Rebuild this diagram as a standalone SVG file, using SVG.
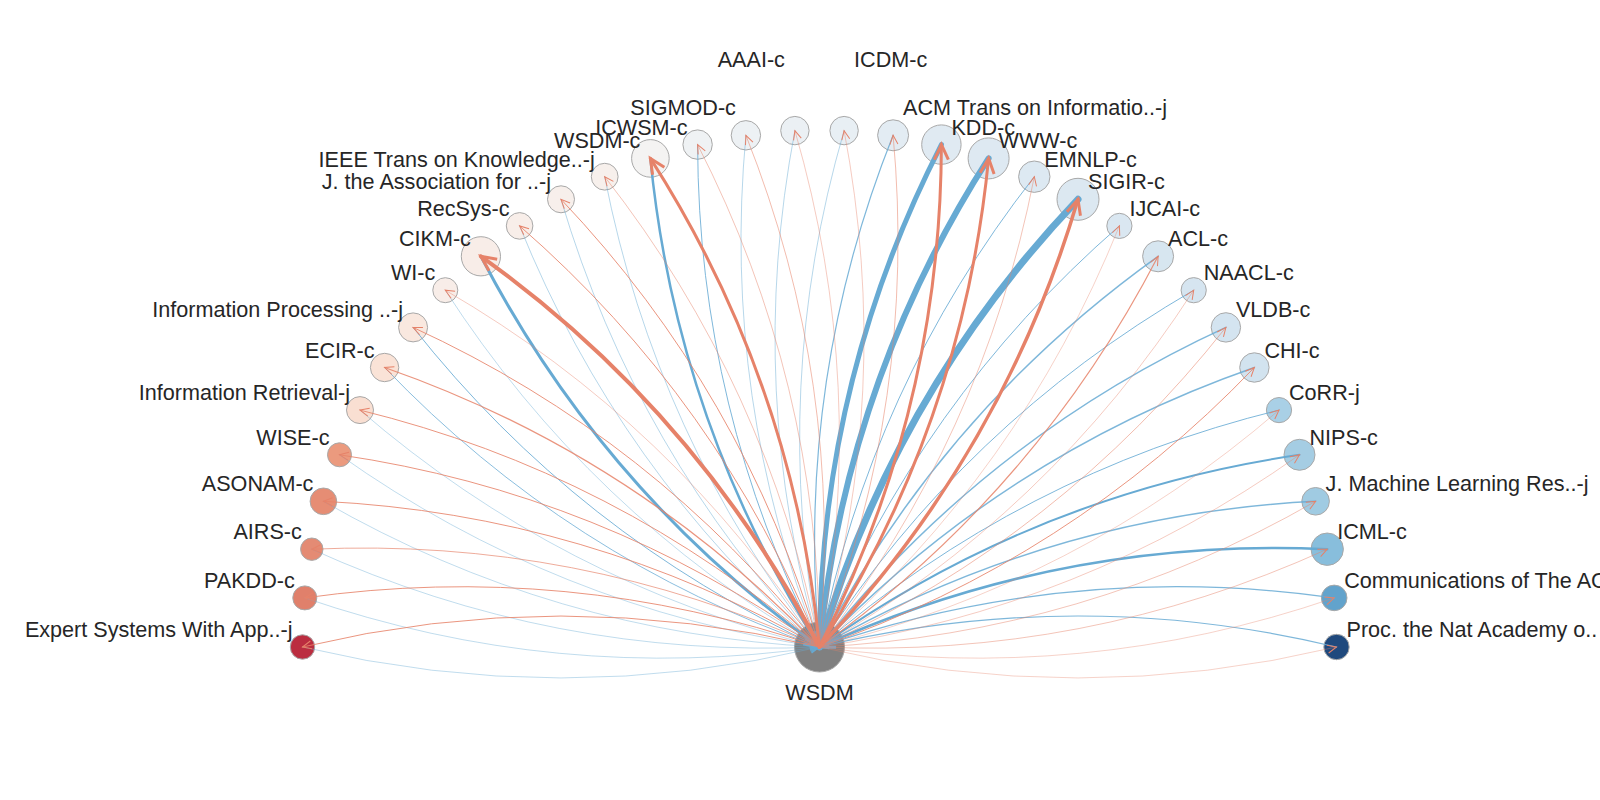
<svg xmlns="http://www.w3.org/2000/svg" width="1600" height="800" viewBox="0 0 1600 800">
<style>
.nd circle{stroke:#a8a8a8;stroke-width:1}
text{font-family:"Liberation Sans",Arial,sans-serif;font-size:21.6px;fill:#262626}
.l{text-anchor:end}
.r{text-anchor:start}
.c{text-anchor:middle}
#connectors path{fill:none;stroke-linecap:round}
.rd{stroke:#e68269;marker-end:url(#mr)}
.rD{stroke:#e68269;marker-end:url(#mR)}
.bl{stroke:#67aad3;marker-end:url(#mb)}
.bL{stroke:#67aad3;marker-end:url(#mB)}
.t{stroke-opacity:0.6}
.m{stroke-opacity:0.85}
</style>
<defs>
<marker id="mr" markerUnits="userSpaceOnUse" orient="auto" markerWidth="20" markerHeight="20" refX="0" refY="0" overflow="visible"><path d="M-9,-4 L0,0 L-9,4" fill="none" stroke="#e68269" stroke-width="1"/></marker>
<marker id="mR" markerUnits="userSpaceOnUse" orient="auto" markerWidth="30" markerHeight="30" refX="0" refY="0" overflow="visible"><path d="M-15,-7 L0,0 L-15,7" fill="none" stroke="#e68269" stroke-width="3"/></marker>
<marker id="mb" markerUnits="userSpaceOnUse" orient="auto" markerWidth="20" markerHeight="20" refX="0" refY="0" overflow="visible"><path d="M-9,-4 L0,0 L-9,4" fill="none" stroke="#67aad3" stroke-width="1"/></marker>
<marker id="mB" markerUnits="userSpaceOnUse" orient="auto" markerWidth="30" markerHeight="30" refX="0" refY="0" overflow="visible"><path d="M-15,-7 L0,0 L-15,7" fill="none" stroke="#67aad3" stroke-width="3"/></marker>
</defs>
<rect width="1600" height="800" fill="#ffffff"/>
<g id="nodes">
<g id="n-wsdm" class="nd"><circle cx="819.5" cy="647" r="25" fill="#808080" stroke="none"/><text class="c" x="819.5" y="700">WSDM</text></g>
<g id="n0" class="nd"><circle cx="302.5" cy="647" r="12.2" fill="#bb2d40"/><text class="l" x="292.5" y="637">Expert Systems With App..-j</text></g>
<g id="n1" class="nd"><circle cx="304.8" cy="597.9" r="12" fill="#e0806b"/><text class="l" x="294.8" y="587.9">PAKDD-c</text></g>
<g id="n2" class="nd"><circle cx="311.8" cy="549.2" r="11.2" fill="#e48b74"/><text class="l" x="301.8" y="539.2">AIRS-c</text></g>
<g id="n3" class="nd"><circle cx="323.4" cy="501.3" r="13.3" fill="#e68d74"/><text class="l" x="313.4" y="491.3">ASONAM-c</text></g>
<g id="n4" class="nd"><circle cx="339.5" cy="454.8" r="12" fill="#eb9a7e"/><text class="l" x="329.5" y="444.8">WISE-c</text></g>
<g id="n5" class="nd"><circle cx="360" cy="410.1" r="13.5" fill="#f9dfd2"/><text class="l" x="350" y="400.1">Information Retrieval-j</text></g>
<g id="n6" class="nd"><circle cx="384.6" cy="367.5" r="14.2" fill="#fae3d7"/><text class="l" x="374.6" y="357.5">ECIR-c</text></g>
<g id="n7" class="nd"><circle cx="413.1" cy="327.4" r="14.5" fill="#f9e8df"/><text class="l" x="403.1" y="317.4">Information Processing ..-j</text></g>
<g id="n8" class="nd"><circle cx="445.3" cy="290.2" r="12.5" fill="#f8ede8"/><text class="l" x="435.3" y="280.2">WI-c</text></g>
<g id="n9" class="nd"><circle cx="480.9" cy="256.3" r="19.6" fill="#f8ede8"/><text class="l" x="470.9" y="246.3">CIKM-c</text></g>
<g id="n10" class="nd"><circle cx="519.6" cy="225.9" r="13.3" fill="#f8eee9"/><text class="l" x="509.6" y="215.9">RecSys-c</text></g>
<g id="n11" class="nd"><circle cx="561" cy="199.3" r="13.5" fill="#f7efeb"/><text class="l" x="551" y="189.3">J. the Association for ..-j</text></g>
<g id="n12" class="nd"><circle cx="604.7" cy="176.7" r="13.4" fill="#f7f0ec"/><text class="l" x="594.7" y="166.7">IEEE Trans on Knowledge..-j</text></g>
<g id="n13" class="nd"><circle cx="650.4" cy="158.4" r="18.8" fill="#f4f3f2"/><text class="l" x="640.4" y="148.4">WSDM-c</text></g>
<g id="n14" class="nd"><circle cx="697.6" cy="144.6" r="14.7" fill="#eff2f4"/><text class="l" x="687.6" y="134.6">ICWSM-c</text></g>
<g id="n15" class="nd"><circle cx="745.9" cy="135.3" r="14.7" fill="#edf1f4"/><text class="l" x="735.9" y="115">SIGMOD-c</text></g>
<g id="n16" class="nd"><circle cx="794.9" cy="130.6" r="14.2" fill="#ebf0f4"/><text class="l" x="784.9" y="66.7">AAAI-c</text></g>
<g id="n17" class="nd"><circle cx="844.1" cy="130.6" r="14.2" fill="#e8eff4"/><text class="r" x="854.1" y="66.7">ICDM-c</text></g>
<g id="n18" class="nd"><circle cx="893.1" cy="135.3" r="15.5" fill="#e3ecf3"/><text class="r" x="903.1" y="115">ACM Trans on Informatio..-j</text></g>
<g id="n19" class="nd"><circle cx="941.4" cy="144.6" r="19.7" fill="#e0eaf2"/><text class="r" x="951.4" y="134.6">KDD-c</text></g>
<g id="n20" class="nd"><circle cx="988.6" cy="158.4" r="20.5" fill="#dee9f2"/><text class="r" x="998.6" y="148.4">WWW-c</text></g>
<g id="n21" class="nd"><circle cx="1034.3" cy="176.7" r="15.7" fill="#dde9f2"/><text class="r" x="1044.3" y="166.7">EMNLP-c</text></g>
<g id="n22" class="nd"><circle cx="1078" cy="199.3" r="21" fill="#dce8f1"/><text class="r" x="1088" y="189.3">SIGIR-c</text></g>
<g id="n23" class="nd"><circle cx="1119.4" cy="225.9" r="12.6" fill="#dae7f1"/><text class="r" x="1129.4" y="215.9">IJCAI-c</text></g>
<g id="n24" class="nd"><circle cx="1158.1" cy="256.3" r="15.5" fill="#d7e6f0"/><text class="r" x="1168.1" y="246.3">ACL-c</text></g>
<g id="n25" class="nd"><circle cx="1193.7" cy="290.2" r="12.6" fill="#d6e5f0"/><text class="r" x="1203.7" y="280.2">NAACL-c</text></g>
<g id="n26" class="nd"><circle cx="1225.9" cy="327.4" r="14.7" fill="#d4e4f0"/><text class="r" x="1235.9" y="317.4">VLDB-c</text></g>
<g id="n27" class="nd"><circle cx="1254.4" cy="367.5" r="14.7" fill="#d2e3ef"/><text class="r" x="1264.4" y="357.5">CHI-c</text></g>
<g id="n28" class="nd"><circle cx="1279" cy="410.1" r="12.6" fill="#a9d0e6"/><text class="r" x="1289" y="400.1">CoRR-j</text></g>
<g id="n29" class="nd"><circle cx="1299.5" cy="454.8" r="15.5" fill="#a5cde3"/><text class="r" x="1309.5" y="444.8">NIPS-c</text></g>
<g id="n30" class="nd"><circle cx="1315.6" cy="501.3" r="13.8" fill="#a0cbe2"/><text class="r" x="1325.6" y="491.3">J. Machine Learning Res..-j</text></g>
<g id="n31" class="nd"><circle cx="1327.2" cy="549.2" r="16.2" fill="#88bedc"/><text class="r" x="1337.2" y="539.2">ICML-c</text></g>
<g id="n32" class="nd"><circle cx="1334.2" cy="597.9" r="12.8" fill="#62a3cc"/><text class="r" x="1344.2" y="587.9">Communications of The AC</text></g>
<g id="n33" class="nd"><circle cx="1336.5" cy="647" r="12.7" fill="#1f497d"/><text class="r" x="1346.5" y="637">Proc. the Nat Academy o..</text></g>
</g>
<g id="connectors">
<path class="bl t" stroke-width="0.7" d="M302.5,647 Q561,709 819.5,647"/>
<path class="bl t" stroke-width="0.7" d="M304.8,597.9 Q556.3,684.2 819.5,647"/>
<path class="bl t" stroke-width="0.7" d="M311.8,549.2 Q553.9,659 819.5,647"/>
<path class="bl t" stroke-width="0.7" d="M323.4,501.3 Q554,633.7 819.5,647"/>
<path class="bl t" stroke-width="0.7" d="M339.5,454.8 Q556.4,608.5 819.5,647"/>
<path class="bl t" stroke-width="0.7" d="M360,410.1 Q561.3,583.7 819.5,647"/>
<path class="bl m" stroke-width="0.9" d="M384.6,367.5 Q568.5,559.4 819.5,647"/>
<path class="bl m" stroke-width="1" d="M413.1,327.4 Q578,536 819.5,647"/>
<path class="bl t" stroke-width="0.7" d="M445.3,290.2 Q589.6,513.5 819.5,647"/>
<path class="bL" stroke-width="3" d="M480.9,256.3 Q603.3,492.3 819.5,647"/>
<path class="bl t" stroke-width="0.8" d="M519.6,225.9 Q619,472.4 819.5,647"/>
<path class="bl t" stroke-width="0.8" d="M561,199.3 Q636.5,454.2 819.5,647"/>
<path class="bl t" stroke-width="0.8" d="M604.7,176.7 Q655.7,437.6 819.5,647"/>
<path class="bL" stroke-width="2.5" d="M650.4,158.4 Q676.3,423 819.5,647"/>
<path class="bl m" stroke-width="1" d="M697.6,144.6 Q698.3,410.4 819.5,647"/>
<path class="bl t" stroke-width="0.8" d="M745.9,135.3 Q721.3,400 819.5,647"/>
<path class="bl t" stroke-width="0.8" d="M794.9,130.6 Q745.2,391.8 819.5,647"/>
<path class="bl t" stroke-width="0.8" d="M844.1,130.6 Q769.8,385.9 819.5,647"/>
<path class="bl m" stroke-width="1.2" d="M893.1,135.3 Q794.9,382.3 819.5,647"/>
<path class="bL" stroke-width="5" d="M941.4,144.6 Q820.2,381.2 819.5,647"/>
<path class="bL" stroke-width="6" d="M988.6,158.4 Q845.4,382.4 819.5,647"/>
<path class="bl m" stroke-width="1" d="M1034.3,176.7 Q870.5,386.1 819.5,647"/>
<path class="bL" stroke-width="7" d="M1078,199.3 Q895,392.1 819.5,647"/>
<path class="bl m" stroke-width="1" d="M1119.4,225.9 Q918.9,400.5 819.5,647"/>
<path class="bl m" stroke-width="1.5" d="M1158.1,256.3 Q941.9,411 819.5,647"/>
<path class="bl m" stroke-width="1" d="M1193.7,290.2 Q963.8,423.7 819.5,647"/>
<path class="bl m" stroke-width="1.5" d="M1225.9,327.4 Q984.4,438.4 819.5,647"/>
<path class="bl m" stroke-width="1.5" d="M1254.4,367.5 Q1003.4,455.1 819.5,647"/>
<path class="bl m" stroke-width="1" d="M1279,410.1 Q1020.8,473.4 819.5,647"/>
<path class="bl" stroke-width="2" d="M1299.5,454.8 Q1036.4,493.3 819.5,647"/>
<path class="bl m" stroke-width="1.5" d="M1315.6,501.3 Q1050.1,514.6 819.5,647"/>
<path class="bL" stroke-width="2.5" d="M1327.2,549.2 Q1061.6,537.2 819.5,647"/>
<path class="bl m" stroke-width="1.2" d="M1334.2,597.9 Q1071,560.7 819.5,647"/>
<path class="bl m" stroke-width="1.2" d="M1336.5,647 Q1078,585 819.5,647"/>
<path class="rd m" stroke-width="1" d="M819.5,647 Q561,585 302.5,647"/>
<path class="rd m" stroke-width="1" d="M819.5,647 Q568,560.7 304.8,597.9"/>
<path class="rd m" stroke-width="0.8" d="M819.5,647 Q577.4,537.2 311.8,549.2"/>
<path class="rd m" stroke-width="1" d="M819.5,647 Q588.9,514.6 323.4,501.3"/>
<path class="rd m" stroke-width="1" d="M819.5,647 Q602.6,493.3 339.5,454.8"/>
<path class="rd m" stroke-width="1" d="M819.5,647 Q618.2,473.4 360,410.1"/>
<path class="rd m" stroke-width="1.3" d="M819.5,647 Q635.6,455.1 384.6,367.5"/>
<path class="rd m" stroke-width="1" d="M819.5,647 Q654.7,438.4 413.1,327.4"/>
<path class="rd t" stroke-width="0.7" d="M819.5,647 Q675.2,423.7 445.3,290.2"/>
<path class="rD" stroke-width="4" d="M819.5,647 Q697.1,411 480.9,256.3"/>
<path class="rd m" stroke-width="1" d="M819.5,647 Q720.1,400.5 519.6,225.9"/>
<path class="rd m" stroke-width="1" d="M819.5,647 Q744,392.1 561,199.3"/>
<path class="rd t" stroke-width="0.8" d="M819.5,647 Q768.5,386.1 604.7,176.7"/>
<path class="rD" stroke-width="3" d="M819.5,647 Q793.6,382.4 650.4,158.4"/>
<path class="rd t" stroke-width="0.8" d="M819.5,647 Q818.8,381.2 697.6,144.6"/>
<path class="rd t" stroke-width="0.9" d="M819.5,647 Q844.1,382.3 745.9,135.3"/>
<path class="rd t" stroke-width="0.7" d="M819.5,647 Q869.2,385.9 794.9,130.6"/>
<path class="rd t" stroke-width="0.7" d="M819.5,647 Q893.8,391.8 844.1,130.6"/>
<path class="rd t" stroke-width="0.9" d="M819.5,647 Q917.7,400 893.1,135.3"/>
<path class="rD" stroke-width="3" d="M819.5,647 Q940.7,410.4 941.4,144.6"/>
<path class="rD" stroke-width="3" d="M819.5,647 Q962.7,423 988.6,158.4"/>
<path class="rd t" stroke-width="0.8" d="M819.5,647 Q983.3,437.6 1034.3,176.7"/>
<path class="rD" stroke-width="3.5" d="M819.5,647 Q1002.5,454.2 1078,199.3"/>
<path class="rd t" stroke-width="0.6" d="M819.5,647 Q1020,472.4 1119.4,225.9"/>
<path class="rd m" stroke-width="1.2" d="M819.5,647 Q1035.7,492.3 1158.1,256.3"/>
<path class="rd t" stroke-width="0.7" d="M819.5,647 Q1049.4,513.5 1193.7,290.2"/>
<path class="rd t" stroke-width="0.9" d="M819.5,647 Q1061.1,536 1225.9,327.4"/>
<path class="rd m" stroke-width="1" d="M819.5,647 Q1070.5,559.4 1254.4,367.5"/>
<path class="rd t" stroke-width="0.6" d="M819.5,647 Q1077.7,583.7 1279,410.1"/>
<path class="rd t" stroke-width="0.7" d="M819.5,647 Q1082.6,608.5 1299.5,454.8"/>
<path class="rd t" stroke-width="0.8" d="M819.5,647 Q1085,633.7 1315.6,501.3"/>
<path class="rd t" stroke-width="0.8" d="M819.5,647 Q1085.1,659 1327.2,549.2"/>
<path class="rd t" stroke-width="0.6" d="M819.5,647 Q1082.7,684.2 1334.2,597.9"/>
<path class="rd t" stroke-width="0.6" d="M819.5,647 Q1078,709 1336.5,647"/>
</g>
</svg>
